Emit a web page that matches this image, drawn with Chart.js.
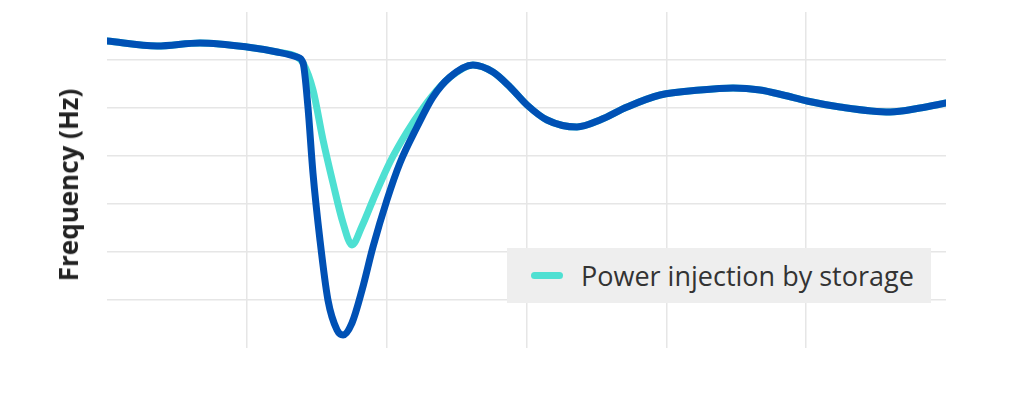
<!DOCTYPE html>
<html>
<head>
<meta charset="utf-8">
<script src="https://cdn.jsdelivr.net/npm/chart.js@4.4.1/dist/chart.umd.min.js"></script>
<style>
  html, body { margin: 0; padding: 0; background: #ffffff; }
  #wrap { position: relative; width: 1024px; height: 415px; overflow: hidden; }
  #c { position: absolute; left: 0; top: 0; }
  #ytitle {
    position: absolute; left: 68px; top: 185px;
    transform: translate(-50%, -50%) rotate(-90deg);
    font-family: "Open Sans", sans-serif; font-weight: 700; font-size: 26px;
    color: #222; white-space: nowrap;
  }
  #legend {
    position: absolute; left: 507px; top: 248px; width: 424px; height: 55px;
    background: #eeeeee; font-family: "Open Sans", sans-serif; font-size: 27px; color: #333;
  }
  #legend .sw { position: absolute; left: 24px; top: 24px; width: 32px; height: 7px; border-radius: 4px; background: #4ee0d2; }
  #legend .tx { position: absolute; left: 74px; top: 50%; transform: translateY(-52%); white-space: nowrap; }
</style>
</head>
<body>
<div id="wrap">
  <canvas id="c" width="1024" height="415"></canvas>
  <div id="ytitle">Frequency (Hz)</div>
  <div id="legend"><span class="sw"></span><span class="tx">Power injection by storage</span></div>
</div>
<script>
// Time (x) and frequency (y) in grid units
const baseX = [0, 0.358, 0.665, 1.001, 1.216, 1.359, 1.402, 1.437, 1.473, 1.523, 1.580, 1.645, 1.688, 1.752, 1.824, 1.902, 2.002, 2.095, 2.217, 2.331, 2.453, 2.617, 2.760, 2.882, 3.004, 3.147, 3.361, 3.526, 3.719, 3.955, 4.241, 4.477, 4.670, 4.835, 5.006, 5.242, 5.600, 5.814, 6.0];
const baseY = [6.396, 6.292, 6.354, 6.271, 6.167, 6.063, 5.938, 5.021, 3.646, 2.25, 1.0, 0.375, 0.271, 0.521, 1.208, 2.104, 3.083, 3.854, 4.604, 5.229, 5.646, 5.896, 5.75, 5.438, 5.063, 4.75, 4.604, 4.75, 5.021, 5.271, 5.375, 5.417, 5.375, 5.271, 5.146, 5.021, 4.917, 5.0, 5.104];

const storageX = [0, 0.358, 0.665, 1.001, 1.216, 1.359, 1.402, 1.473, 1.545, 1.616, 1.688, 1.752, 1.824, 1.902, 2.024, 2.145, 2.260, 2.381, 2.474, 2.617, 2.760, 2.882, 3.004, 3.147, 3.361, 3.526, 3.719, 3.955, 4.241, 4.477, 4.670, 4.835, 5.006, 5.242, 5.600, 5.814, 6.0];
const storageY = [6.396, 6.292, 6.354, 6.271, 6.167, 6.063, 5.938, 5.375, 4.333, 3.438, 2.604, 2.146, 2.542, 3.083, 3.875, 4.5, 5.0, 5.438, 5.69, 5.896, 5.75, 5.438, 5.063, 4.75, 4.604, 4.75, 5.021, 5.271, 5.375, 5.417, 5.375, 5.271, 5.146, 5.021, 4.917, 5.0, 5.104];

const seriesNames = ["No storage", "Power injection by storage"];

const toPts = (xs, ys) => xs.map((x, i) => ({ x: x, y: ys[i] }));

const innerGrid = (max) => (ctx) => (ctx.tick && (ctx.tick.value <= 0 || ctx.tick.value >= max)) ? 'rgba(0,0,0,0)' : '#e6e6e6';

new Chart(document.getElementById('c'), {
  type: 'line',
  data: {
    datasets: [
      {
        label: seriesNames[0],
        data: toPts(baseX, baseY),
        borderColor: '#0051b5',
        borderWidth: 7,
        pointRadius: 0,
        cubicInterpolationMode: 'monotone',
        borderCapStyle: 'round',
        borderJoinStyle: 'round',
        fill: false,
        order: 0
      },
      {
        label: seriesNames[1],
        data: toPts(storageX, storageY),
        borderColor: '#4ee0d2',
        borderWidth: 7,
        pointRadius: 0,
        cubicInterpolationMode: 'monotone',
        borderCapStyle: 'round',
        borderJoinStyle: 'round',
        fill: false,
        order: 1
      }
    ]
  },
  options: {
    responsive: false,
    animation: false,
    layout: { padding: { left: 107, right: 78, top: 12, bottom: 67 } },
    plugins: { legend: { display: false }, tooltip: { enabled: false } },
    scales: {
      x: {
        type: 'linear', min: 0, max: 6,
        ticks: { display: false, stepSize: 1 },
        border: { display: false },
        grid: { color: innerGrid(6), lineWidth: 1.5, drawTicks: false }
      },
      y: {
        type: 'linear', min: 0, max: 7,
        ticks: { display: false, stepSize: 1 },
        border: { display: false },
        grid: { color: innerGrid(7), lineWidth: 1.5, drawTicks: false }
      }
    }
  }
});
</script>
</body>
</html>
